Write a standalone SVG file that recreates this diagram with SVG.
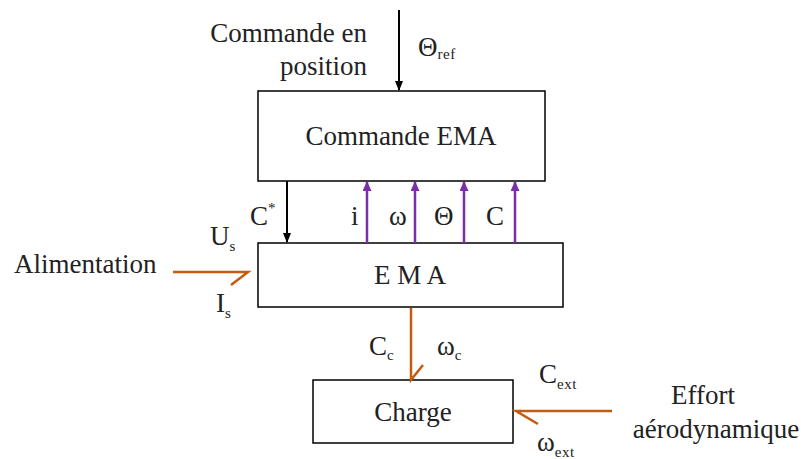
<svg xmlns="http://www.w3.org/2000/svg" width="802" height="459" viewBox="0 0 802 459">
<style>
text{font-family:'Times New Roman','Liberation Serif',Tinos,'DejaVu Serif',Georgia,serif;font-size:27px;fill:#222}
tspan.s{font-size:15px;letter-spacing:0.5px}
.box{fill:#fff;stroke:#000;stroke-width:1.5}
.k{stroke:#000;stroke-width:2;fill:none}
.p{stroke:#7a2fa8;stroke-width:2.5;fill:none}
.o{stroke:#c55a11;stroke-width:2.5;fill:none}
</style>
<defs>
<marker id="ak" markerWidth="10" markerHeight="8" refX="9" refY="4" orient="auto" markerUnits="userSpaceOnUse"><path d="M0,0 L10,4 L0,8 Z" fill="#000"/></marker>
<marker id="ap" markerWidth="10" markerHeight="9" refX="9" refY="4.5" orient="auto" markerUnits="userSpaceOnUse"><path d="M0,0 L10,4.5 L0,9 Z" fill="#7a2fa8"/></marker>
</defs>
<rect width="802" height="459" fill="#fff"/>
<g id="commande-ema"><rect class="box" x="258" y="91" width="287" height="90"/><text x="401" y="145" text-anchor="middle">Commande EMA</text></g>
<g id="ema"><rect class="box" x="258" y="243" width="305" height="64"/><text x="410" y="284" text-anchor="middle">E M A</text></g>
<g id="charge"><rect class="box" x="313" y="380" width="200" height="63"/><text x="413" y="421" text-anchor="middle">Charge</text></g>
<g id="connectors">
<line class="k" x1="399" y1="10" x2="399" y2="90" marker-end="url(#ak)"/>
<line class="k" x1="287" y1="181" x2="287" y2="242" marker-end="url(#ak)"/>
<line class="p" x1="367" y1="243" x2="367" y2="182" marker-end="url(#ap)"/>
<line class="p" x1="415" y1="243" x2="415" y2="182" marker-end="url(#ap)"/>
<line class="p" x1="464" y1="243" x2="464" y2="182" marker-end="url(#ap)"/>
<line class="p" x1="515" y1="243" x2="515" y2="182" marker-end="url(#ap)"/>
<path class="o" d="M173,272 H248 L231,285"/>
<path class="o" d="M411,308 V380 L423,365"/>
<path class="o" d="M612,411 H516 L538,424"/>
</g>
<g id="labels">
<text x="367" y="42" text-anchor="end">Commande en</text>
<text x="367" y="75" text-anchor="end">position</text>
<text x="418" y="56">Θ<tspan class="s" dy="3">ref</tspan></text>
<text x="250" y="225">C<tspan class="s" dy="-12">*</tspan></text>
<text x="351" y="225">i</text>
<text x="389" y="225">ω</text>
<text x="434" y="225">Θ</text>
<text x="486" y="225">C</text>
<text x="210" y="245">U<tspan class="s" dy="6">s</tspan></text>
<text x="216" y="312">I<tspan class="s" dy="6">s</tspan></text>
<text x="14" y="273">Alimentation</text>
<text x="369" y="355">C<tspan class="s" dy="5">c</tspan></text>
<text x="437" y="355">ω<tspan class="s" dy="5">c</tspan></text>
<text x="539" y="383">C<tspan class="s" dy="6">ext</tspan></text>
<text x="537" y="451">ω<tspan class="s" dy="6">ext</tspan></text>
<text x="703" y="404" text-anchor="middle">Effort</text>
<text x="716" y="438" text-anchor="middle">aérodynamique</text>
</g>
</svg>
